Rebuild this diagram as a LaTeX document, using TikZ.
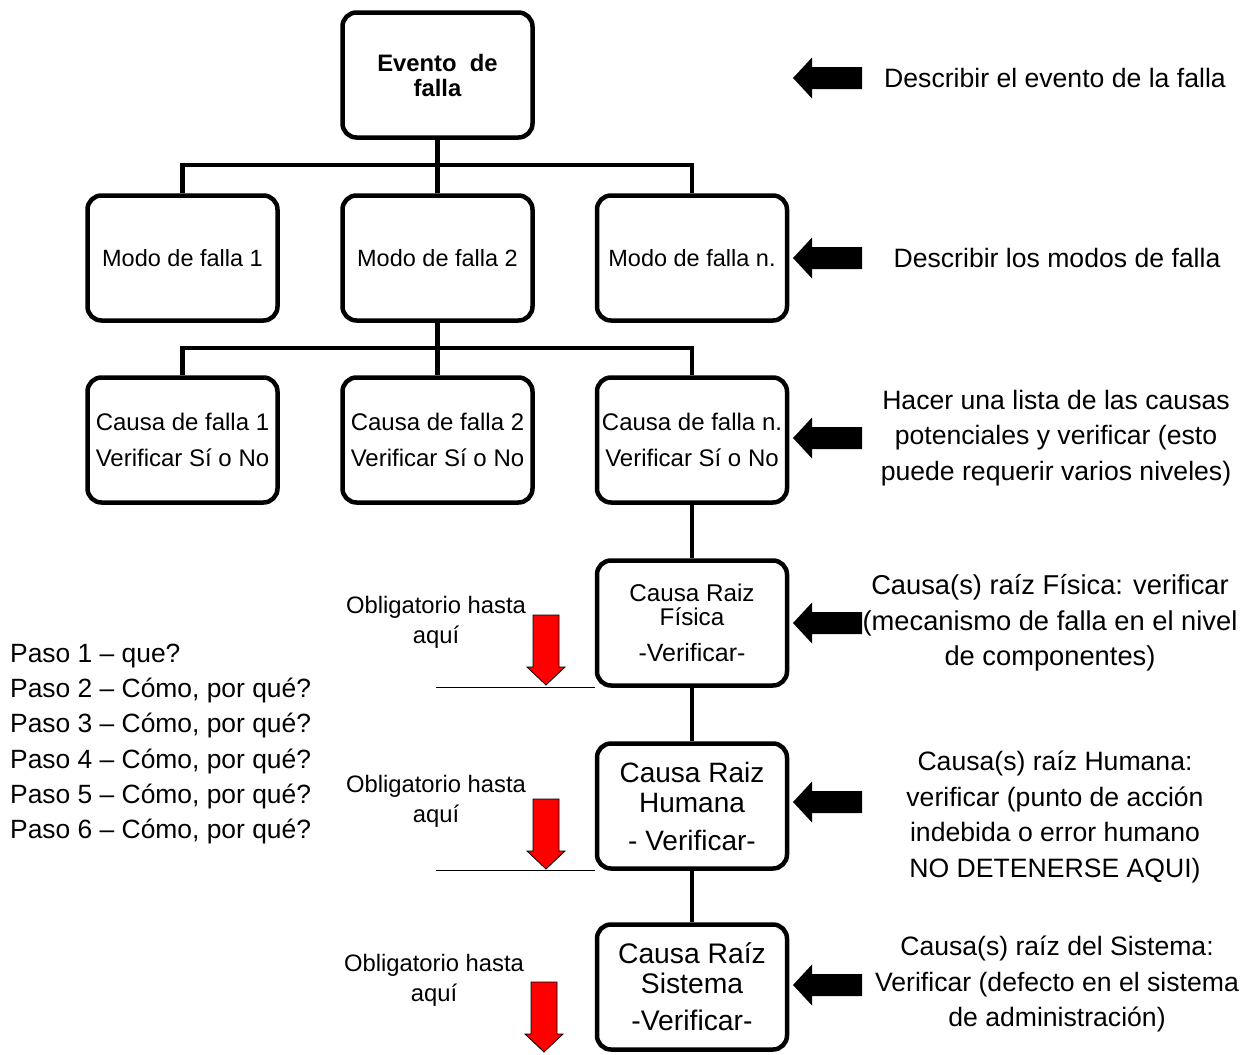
\documentclass[tikz,border=0pt]{standalone}
\usepackage{fontspec}
\setmainfont{Liberation Sans}
\begin{document}
\begin{tikzpicture}[x=1pt,y=-1pt,
 box/.style={draw, line width=4.5pt, rounded corners=14pt, minimum width=190pt, minimum height=125pt, align=center, inner sep=0pt, font=\fontsize{24}{36}\selectfont},
 conn/.style={line width=4.5pt},
 thinline/.style={line width=1.3pt},
 note/.style={align=center, inner sep=0pt, font=\fontsize{26.6}{35.5}\selectfont},
 oblig/.style={align=center, inner sep=0pt, font=\fontsize{23.8}{30}\selectfont},
 blackarrow/.pic={\fill[black] (0,0) -- (19,-20.5) -- (19,-11) -- (69,-11) -- (69,11) -- (19,11) -- (19,20.5) -- cycle;},
 redarrow/.pic={\filldraw[fill=red, draw=black, line width=0.8pt] (0,0) -- (-19,-18) -- (-13,-18) -- (-13,-70) -- (13,-70) -- (13,-18) -- (19,-18) -- cycle;}
]
\useasboundingbox (0,0) rectangle (1256,1055);

% boxes
\node[box, font=\bfseries\fontsize{23.8}{25}\selectfont] (ev) at (437.5,75) {Evento~ de\\falla};
\node[box, font=\fontsize{23.5}{36}\selectfont] (m1) at (182.5,258) {Modo de falla 1};
\node[box, font=\fontsize{23.5}{36}\selectfont] (m2) at (437.5,258) {Modo de falla 2};
\node[box, font=\fontsize{23.5}{36}\selectfont] (m3) at (692,258) {Modo de falla n.};
\node[box] (c1) at (182.5,440) {Causa de falla 1\\Verificar Sí o No};
\node[box] (c2) at (437.5,440) {Causa de falla 2\\Verificar Sí o No};
\node[box] (c3) at (692,440) {Causa de falla n.\\Verificar Sí o No};
\node[box, font=\fontsize{24.2}{24}\selectfont] (fis) at (692,623) {Causa Raiz\\Física\\[12pt]{\fontsize{25}{24}\selectfont -Verificar-}};
\node[box, font=\fontsize{28}{30}\selectfont] (hum) at (692,806) {Causa Raiz\\Humana\\[8pt]- Verificar-};
\node[box, font=\fontsize{28.3}{30}\selectfont] (sis) at (692,987) {Causa Raíz\\Sistema\\[7pt]-Verificar-};

% connectors
\coordinate (j1) at (437.5,165);
\coordinate (j2) at (437.5,348);
\draw[conn] (ev) -- (m2);
\draw[conn] (m1.north) |- (j1) -| (m3.north);
\draw[conn] (m2) -- (c2);
\draw[conn] (c1.north) |- (j2) -| (c3.north);
\draw[conn] (c3) -- (fis);
\draw[conn] (fis) -- (hum);
\draw[conn] (hum) -- (sis);

% thin lines
\draw[thinline] (fis.south west) -- ++(-159,0);
\draw[thinline] (hum.south west) -- ++(-159,0);

% black arrows
\pic at (793,78) {blackarrow};
\pic at (793,258) {blackarrow};
\pic at (793,438) {blackarrow};
\pic at (793,623) {blackarrow};
\pic at (793,802) {blackarrow};
\pic at (793,985) {blackarrow};

% red arrows
\pic at (546,685) {redarrow};
\pic at (546,869) {redarrow};
\pic at (544,1052) {redarrow};

% obligatorio texts
\node[oblig] (o1) at (436,622) {Obligatorio hasta\\aquí};
\node[oblig] (o2) at (436,801) {Obligatorio hasta\\aquí};
\node[oblig] (o3) at (434,980) {Obligatorio hasta\\aquí};

% right notes
\node[note] (n1) at (1055,78) {Describir el evento de la falla};
\node[note] (n2) at (1057,258) {Describir los modos de falla};
\node[note] (n3) at (1056,438) {Hacer una lista de las causas\\potenciales y verificar (esto\\puede requerir varios niveles)};
\node[note, font=\fontsize{27.3}{35.5}\selectfont] (n4) at (1050,623) {Causa(s) raíz Física: verificar\\(mecanismo de falla en el nivel\\de componentes)};
\node[note] (n5) at (1055,817) {Causa(s) raíz Humana:\\verificar (punto de acción\\indebida o error humano\\NO DETENERSE AQUI)};
\node[note] (n6) at (1057,984) {Causa(s) raíz del Sistema:\\Verificar (defecto en el sistema\\de administración)};

% paso list
\node[anchor=west, align=left, inner sep=0pt, font=\fontsize{26.4}{35.2}\selectfont] (paso) at (10,744) {Paso 1 – que?\\Paso 2 – Cómo, por qué?\\Paso 3 – Cómo, por qué?\\Paso 4 – Cómo, por qué?\\Paso 5 – Cómo, por qué?\\Paso 6 – Cómo, por qué?};
\end{tikzpicture}
\end{document}
